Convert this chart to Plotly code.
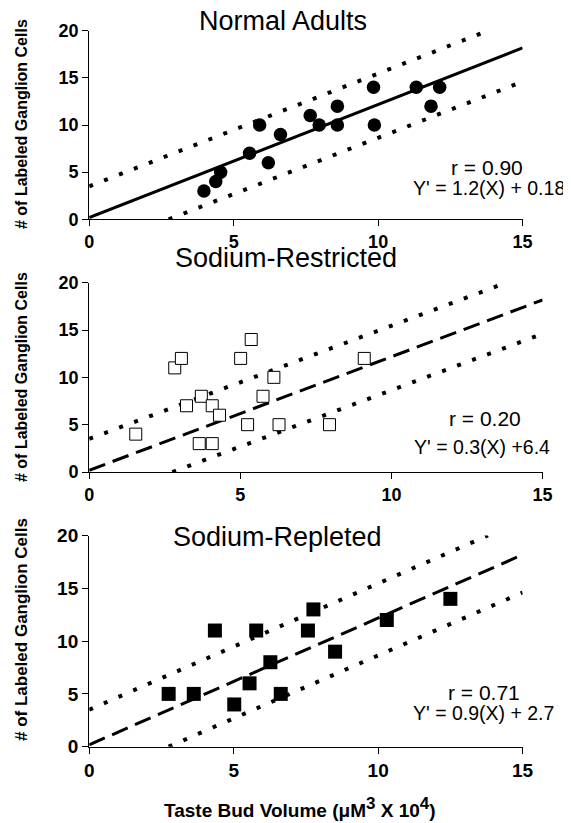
import plotly.graph_objects as go

# the page body adds an 8px margin, so the figure is drawn 8px smaller and
# all pixel positions below are given in window pixels
PAGE_OFF = 8
W, H = 571 - PAGE_OFF, 823 - PAGE_OFF

# ---------------- data ----------------
normal_x = [3.97, 4.38, 4.55, 5.55, 5.9, 6.2, 6.62, 7.65, 7.96, 8.59, 8.59, 9.84, 9.87, 11.32, 11.83, 12.13]
normal_y = [3, 4, 5, 7, 10, 6, 9, 11, 10, 12, 10, 14, 10, 14, 12, 14]

restricted_x = [1.54, 2.83, 3.05, 3.22, 3.71, 3.64, 4.07, 4.07, 4.31, 5.01, 5.36, 5.24, 5.75, 6.11, 6.28, 7.95, 9.1]
restricted_y = [4, 11, 12, 7, 8, 3, 3, 7, 6, 12, 14, 5, 8, 10, 5, 5, 12]

repleted_x = [2.75, 3.62, 4.35, 5.02, 5.55, 5.78, 6.27, 6.63, 7.57, 7.76, 8.51, 10.3, 12.5]
repleted_y = [5, 5, 11, 4, 6, 11, 8, 5, 11, 13, 9, 12, 14]

# normal-adult regression line and prediction bands (drawn in every panel)
fit_x = [0, 15]
fit_y = [0.18, 18.18]
upper_x = [0, 13.8]
upper_y = [3.5, 20]
lower_x = [2.75, 15]
lower_y = [0, 14.6]

x_ticks = [0, 5, 10, 15]
y_ticks = [0, 5, 10, 15, 20]

titles = ["Normal Adults", "Sodium-Restricted", "Sodium-Repleted"]
r_texts = ["r = 0.90", "r = 0.20", "r = 0.71"]
eq_texts = ["Y' = 1.2(X) + 0.18", "Y' = 0.3(X) +6.4", "Y' = 0.9(X) + 2.7"]
y_title = "# of Labeled Ganglion Cells"
x_title = ("Taste Bud Volume (\u03bcM<sup><span style='font-size:17px'>3</span></sup>"
           " X 10<sup><span style='font-size:17px'>4</span></sup>)")

# ---------------- layout helpers (window pixel -> paper) ----------------
def fx(px):
    return (px - PAGE_OFF) / W

def fy(py):
    return 1 - (py - PAGE_OFF) / H

# pixel boxes of the three plot areas: (left, right, top, bottom)
boxes = [
    (89.2, 522.6, 30.7, 219.3),
    (89.2, 542.6, 282.7, 472.0),
    (89.2, 522.6, 535.5, 746.7),
]
title_pos = [(283, 21), (286, 258), (277, 537)]
title_size = [27, 27, 27]
r_pos = [(487, 167), (485, 418), (484, 692)]
eq_pos = [(489, 188), (482, 447), (483, 713)]
ytitle_y = [124, 377, 630]
ytitle_size = [16, 16, 17]
tick_size = [18, 18, 19]

FONT = "Liberation Sans, Arial, Helvetica, sans-serif"

fig = go.Figure()

series = [
    (normal_x, normal_y, dict(symbol="circle", size=13.5, color="black", line=dict(width=0))),
    (restricted_x, restricted_y, dict(symbol="square", size=12, color="white", line=dict(width=1, color="black"))),
    (repleted_x, repleted_y, dict(symbol="square", size=14, color="black", line=dict(width=0))),
]
fit_dash = ["solid", "17px,8px", "17px,8px"]

for i, (sx, sy, mk) in enumerate(series):
    xa = "x" if i == 0 else f"x{i+1}"
    ya = "y" if i == 0 else f"y{i+1}"
    dot = dict(color="black", width=4, dash="4px,12px")
    fig.add_trace(go.Scatter(x=upper_x, y=upper_y, mode="lines", line=dot,
                             xaxis=xa, yaxis=ya, showlegend=False, hoverinfo="skip"))
    fig.add_trace(go.Scatter(x=lower_x, y=lower_y, mode="lines", line=dot,
                             xaxis=xa, yaxis=ya, showlegend=False, hoverinfo="skip"))
    fig.add_trace(go.Scatter(x=fit_x, y=fit_y, mode="lines",
                             line=dict(color="black", width=3, dash=fit_dash[i]),
                             xaxis=xa, yaxis=ya, showlegend=False, hoverinfo="skip"))
    fig.add_trace(go.Scatter(x=sx, y=sy, mode="markers", marker=mk,
                             xaxis=xa, yaxis=ya, showlegend=False, cliponaxis=False))

layout = dict(
    width=W, height=H,
    margin=dict(l=0, r=0, t=0, b=0, pad=0, autoexpand=False),
    paper_bgcolor="white", plot_bgcolor="white",
    font=dict(family=FONT, color="black"),
    showlegend=False,
)

annotations = []
for i, (l, r, t, b) in enumerate(boxes):
    xk = "xaxis" if i == 0 else f"xaxis{i+1}"
    yk = "yaxis" if i == 0 else f"yaxis{i+1}"
    xa = "x" if i == 0 else f"x{i+1}"
    ya = "y" if i == 0 else f"y{i+1}"
    tickfont = dict(family=FONT, size=tick_size[i], color="black", weight="bold")
    layout[xk] = dict(domain=[fx(l), fx(r)], range=[0, 15], anchor=ya, automargin=False,
                      tickvals=x_ticks, ticktext=[str(v) for v in x_ticks],
                      showline=True, linecolor="black", linewidth=1.3,
                      ticks="outside", ticklen=6, tickwidth=1.2, tickcolor="black",
                      tickfont=tickfont, showgrid=False, zeroline=False)
    layout[yk] = dict(domain=[fy(b), fy(t)], range=[0, 20], anchor=xa, automargin=False,
                      tickvals=y_ticks, ticktext=[str(v) for v in y_ticks],
                      showline=True, linecolor="black", linewidth=1.3,
                      ticks="outside", ticklen=6, tickwidth=1.2, tickcolor="black",
                      tickfont=tickfont, showgrid=False, zeroline=False)
    tx, ty = title_pos[i]
    annotations.append(dict(text=titles[i], x=fx(tx), y=fy(ty), xref="paper", yref="paper",
                            showarrow=False, xanchor="center", yanchor="middle",
                            font=dict(family=FONT, size=title_size[i], color="black")))
    rx, ry = r_pos[i]
    annotations.append(dict(text=r_texts[i], x=fx(rx), y=fy(ry), xref="paper", yref="paper",
                            showarrow=False, xanchor="center", yanchor="middle",
                            font=dict(family=FONT, size=21, color="black")))
    ex, ey = eq_pos[i]
    annotations.append(dict(text=eq_texts[i], x=fx(ex), y=fy(ey), xref="paper", yref="paper",
                            showarrow=False, xanchor="center", yanchor="middle",
                            font=dict(family=FONT, size=19.5, color="black")))
    annotations.append(dict(text=y_title, x=fx(21), y=fy(ytitle_y[i]), xref="paper", yref="paper",
                            showarrow=False, xanchor="center", yanchor="middle", textangle=-90,
                            font=dict(family=FONT, size=ytitle_size[i], color="black", weight="bold")))

annotations.append(dict(text=x_title, x=fx(300), y=fy(807), xref="paper", yref="paper",
                        showarrow=False, xanchor="center", yanchor="middle",
                        font=dict(family=FONT, size=19, color="black", weight="bold")))
layout["annotations"] = annotations

fig.update_layout(**layout)
fig.write_html("out.html")
